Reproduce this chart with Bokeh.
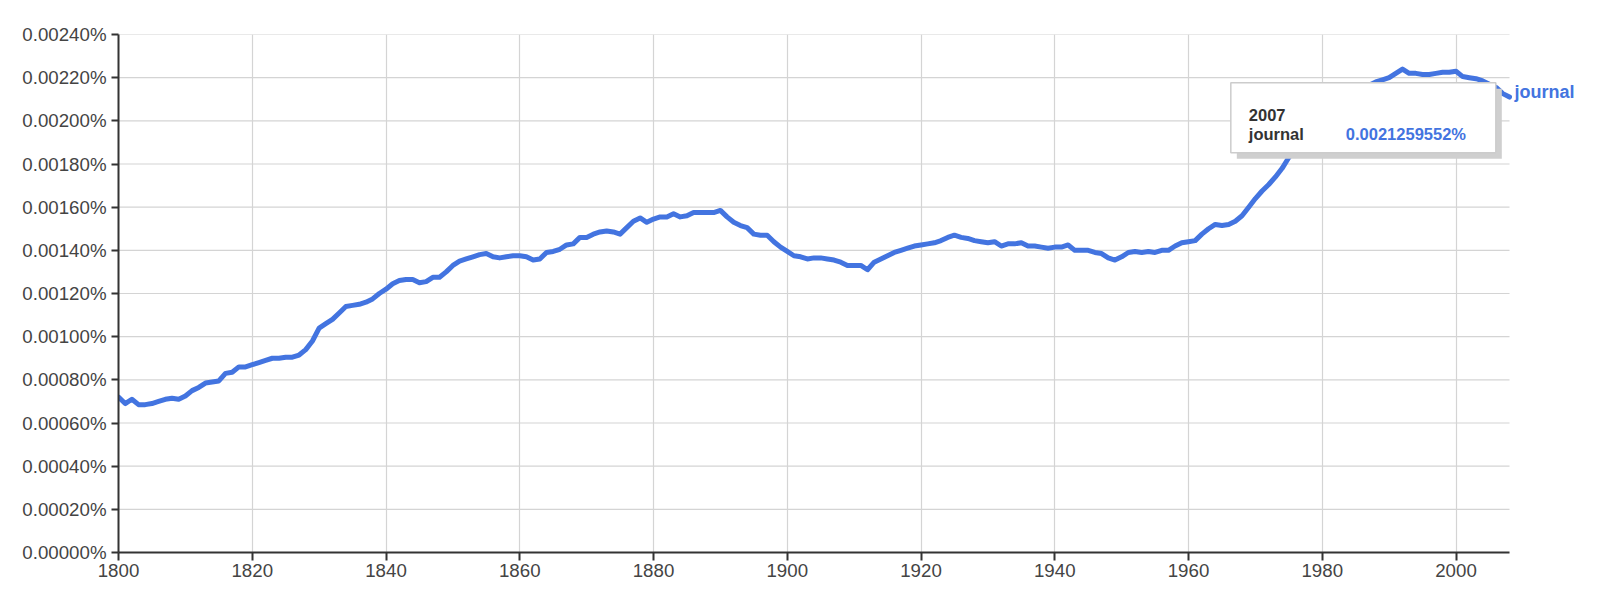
from bokeh.plotting import figure
from bokeh.models import (ColumnDataSource, FixedTicker, PrintfTickFormatter, Label,
                          BoxAnnotation, Range1d)
from bokeh.embed import file_html
from bokeh.resources import INLINE

# ---------------- data ----------------
start_year = 1800
series_name = "journal"
# frequency in percent (x 1e-5 %)
values_e5 = [
    72, 69, 71, 68.5, 68.5, 69, 70, 71, 71.5, 71,            # 1800-1809
    72.5, 75, 76.5, 78.5, 79, 79.5, 83, 83.5, 86, 86,        # 1810-1819
    87, 88, 89, 90, 90, 90.5, 90.5, 91.5, 94, 98,            # 1820-1829
    104, 106, 108, 111, 114, 114.5, 115, 116, 117.5, 120,    # 1830-1839
    122, 124.5, 126, 126.5, 126.5, 125, 125.5, 127.5, 127.5, 130,  # 1840-1849
    133, 135, 136, 137, 138, 138.5, 137, 136.5, 137, 137.5,  # 1850-1859
    137.5, 137, 135.5, 136, 139, 139.5, 140.5, 142.5, 143, 146,  # 1860-1869
    146, 147.5, 148.5, 149, 148.5, 147.5, 150.5, 153.5, 155, 153,  # 1870-1879
    154.5, 155.5, 155.5, 157, 155.5, 156, 157.5, 157.5, 157.5, 157.5,  # 1880-1889
    158.5, 155.5, 153, 151.5, 150.5, 147.5, 147, 147, 144, 141.5,  # 1890-1899
    139.5, 137.5, 137, 136, 136.5, 136.5, 136, 135.5, 134.5, 133,  # 1900-1909
    133, 133, 131, 134.5, 136, 137.5, 139, 140, 141, 142,    # 1910-1919
    142.5, 143, 143.5, 144.5, 146, 147, 146, 145.5, 144.5, 144,  # 1920-1929
    143.5, 144, 142, 143, 143, 143.5, 142, 142, 141.5, 141,  # 1930-1939
    141.5, 141.5, 142.5, 140, 140, 140, 139, 138.5, 136.5, 135.5,  # 1940-1949
    137, 139, 139.5, 139, 139.5, 139, 140, 140, 142, 143.5,  # 1950-1959
    144, 144.5, 147.5, 150, 152, 151.5, 152, 153.5, 156, 160,  # 1960-1969
    164, 167.5, 170.5, 174, 178, 183, 187.5, 191.5, 195.5, 199,  # 1970-1979
    202, 204.5, 207, 209, 211, 213, 215, 216.5, 218, 219,    # 1980-1989
    220, 222, 224, 222, 222, 221.5, 221.5, 222, 222.5, 222.5,  # 1990-1999
    223, 220.5, 220, 219.5, 218.5, 217, 215.5, 212.6, 211,   # 2000-2008
]
years = [start_year + i for i in range(len(values_e5))]
values = [v * 1e-5 for v in values_e5]

x_ticks = [1800, 1820, 1840, 1860, 1880, 1900, 1920, 1940, 1960, 1980, 2000]
y_ticks = [0.0, 0.0002, 0.0004, 0.0006, 0.0008, 0.0010, 0.0012,
           0.0014, 0.0016, 0.0018, 0.0020, 0.0022, 0.0024]

hover_year = 2007
hover_value_text = "0.0021259552%"

# ---------------- figure ----------------
X0, XEND = 1800, 2008          # axis extent
Y0, Y1 = 0.0, 0.0024
PX_PER_YEAR = 1391 / (XEND - X0)
FW, FH = 1474, 518
X1 = X0 + FW / PX_PER_YEAR     # frame extends past axis end (room for series label)
BL, BT, BR, BB = 118, 34, 0, 36

p = figure(frame_width=FW, frame_height=FH,
           min_border_left=BL, min_border_top=BT, min_border_right=BR, min_border_bottom=BB,
           x_range=Range1d(X0, X1), y_range=Range1d(Y0, Y1),
           output_backend="svg", toolbar_location=None,
           background_fill_color="white", border_fill_color="white")
p.outline_line_color = None

FONT = "Liberation Sans"
AXC = "#333333"
TXC = "#444444"
BLUE = "#4374e0"
GRID = "#d4d4d4"

for ax in (p.xaxis[0], p.yaxis[0]):
    ax.axis_line_color = AXC
    ax.axis_line_width = 2
    ax.major_tick_line_color = AXC
    ax.major_tick_line_width = 2
    ax.minor_tick_line_color = None
    ax.major_tick_in = 0
    ax.major_label_text_font = FONT
    ax.major_label_text_font_size = "18.7px"
    ax.major_label_text_color = TXC

p.xaxis.ticker = FixedTicker(ticks=x_ticks)
p.xaxis.bounds = (X0, XEND)
p.xaxis.major_tick_out = 8
p.xaxis.major_label_standoff = 3
p.yaxis.ticker = FixedTicker(ticks=y_ticks)
p.yaxis.major_tick_out = 7
p.yaxis.major_label_standoff = 5
p.yaxis.formatter = PrintfTickFormatter(format="%.5f%%")

p.xgrid.ticker = FixedTicker(ticks=x_ticks)
p.xgrid.grid_line_color = GRID
p.xgrid.grid_line_width = 1.2
p.ygrid.visible = False
# horizontal grid lines only up to the axis end
p.segment(x0=[X0] * len(y_ticks), x1=[XEND] * len(y_ticks), y0=y_ticks, y1=y_ticks,
          line_color=GRID, line_width=1.2)

src = ColumnDataSource(dict(year=years, value=values))
p.line("year", "value", source=src, line_color=BLUE, line_width=5,
       line_join="round", line_cap="round")

# series label at end of line
p.add_layout(Label(x=years[-1], y=values[-1], text=series_name, x_offset=5, y_offset=5,
                   text_font=FONT, text_font_size="18px", text_font_style="bold",
                   text_color=BLUE, text_baseline="middle", text_align="left"))

# helpers: pixels -> data distances
def dx(px):
    return px / PX_PER_YEAR

def dy(py):
    return py * (Y1 - Y0) / FH

# tooltip, anchored to the hovered point
hv = values[years.index(hover_year)]
left = hover_year - dx(272)
right = hover_year - dx(7)
top = hv + dy(11)
bottom = hv - dy(59)

p.add_layout(BoxAnnotation(left=left + dx(6), right=right + dx(6),
                           top=top - dy(6), bottom=bottom - dy(6),
                           fill_color="#cfcfcf", fill_alpha=1, line_color=None))
p.add_layout(BoxAnnotation(left=left, right=right, top=top, bottom=bottom,
                           fill_color="white", fill_alpha=1,
                           line_color="#cccccc", line_width=1.5, line_alpha=1))

p.add_layout(Label(x=left + dx(18), y=top - dy(32), text=str(hover_year),
                   text_font=FONT, text_font_size="16.5px", text_font_style="bold",
                   text_color="#333333", text_baseline="alphabetic"))
p.add_layout(Label(x=left + dx(18), y=top - dy(51), text=series_name,
                   text_font=FONT, text_font_size="16.5px", text_font_style="bold",
                   text_color="#333333", text_baseline="alphabetic"))
p.add_layout(Label(x=left + dx(115), y=top - dy(51), text=hover_value_text,
                   text_font=FONT, text_font_size="16.5px", text_font_style="bold",
                   text_color=BLUE, text_baseline="alphabetic"))

open("out.html", "w").write(file_html(p, INLINE))
